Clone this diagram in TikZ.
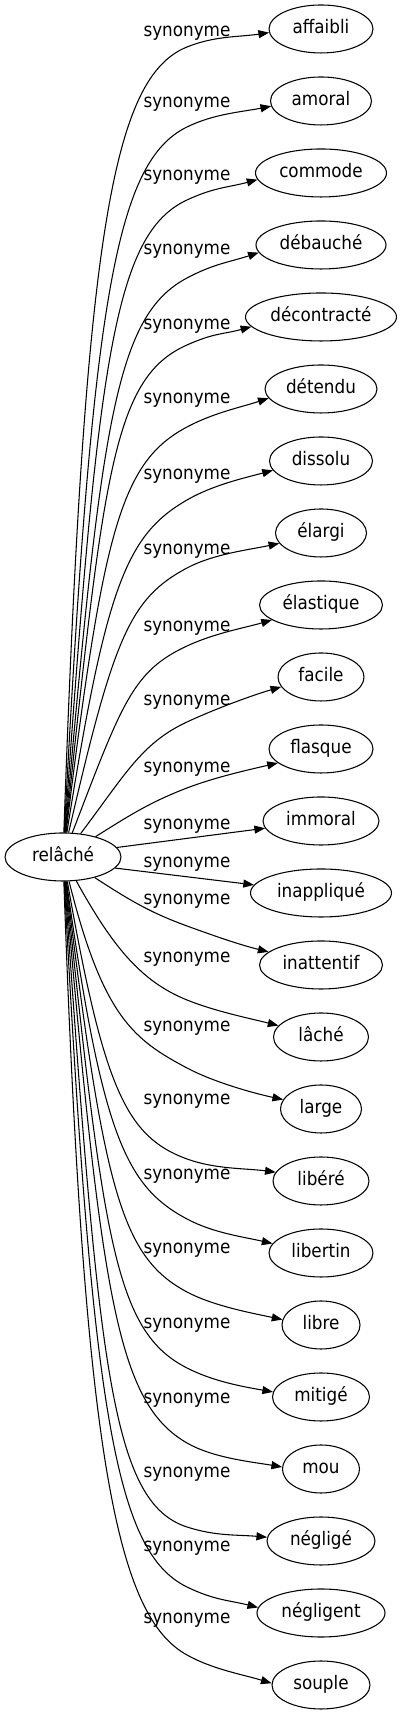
\documentclass[tikz,border=0pt]{standalone}
\usepackage{fontspec}
\setmainfont{DejaVu Sans Condensed}
\usetikzlibrary{arrows.meta,shapes.geometric}
\begin{document}
\begin{tikzpicture}[x=0.75pt,y=0.75pt,
  word/.style={ellipse, draw, line width=0.8pt, inner sep=0pt, minimum height=36pt,
    text height=0.85em, text depth=0.21em, font=\fontsize{14pt}{16pt}\selectfont},
  lab/.style={anchor=base, inner sep=0pt, font=\fontsize{14pt}{16pt}\selectfont},
  edge/.style={draw, line width=0.8pt, -{Triangle[length=8pt,width=6pt]}}]
\useasboundingbox (0,0) rectangle (403,1715);
\node[word, minimum width=87pt] (rel) at (63,858) {relâché};
\foreach \n/\w/\t [count=\i from 0] in {
  t0/78/affaibli, t1/75.75/amoral, t2/98.25/commode, t3/97.5/débauché,
  t4/113.25/décontracté, t5/84/détendu, t6/77.25/dissolu, t7/68.25/élargi,
  t8/92.25/élastique, t9/64.5/facile, t10/78/flasque, t11/87/immoral,
  t12/105.75/inappliqué, t13/92.25/inattentif, t14/71.25/lâché, t15/60.75/large,
  t16/72/libéré, t17/78/libertin, t18/58.5/libre, t19/72.75/mitigé,
  t20/57.75/mou, t21/81/négligé, t22/96/négligent, t23/73.5/souple} {
  \pgfmathsetmacro\yy{1686-72*\i}
  \node[word, minimum width=\w pt] (\n) at (321,\yy) {\t};
}
% curved connectors: start angle, y at x=187, tangent there, end anchor, end tangent
\foreach \i/\aS/\yM/\aM/\pE/\tE/\dA/\dB/\ly in {
  0/88/47/22/184/8.6/600/80/32,
  1/87/127/26/186/11/530/80/103,
  2/86/200/25/186/15/475/80/176,
  3/85/278/28/187/18/415/80/250,
  4/84/345/24/188/15/365/80/325,
  5/83/427/28/190/18/305/75/399,
  6/81/500/30/191/15/250/70/475,
  7/77/568/28/194/12/200/65/550,
  8/69/646/25/197/16/140/60/627,
  9/53/722/25/194/16/75/50/701,
  10/32/788/21/198/13/40/40/768,
  13/327/926/-20/166/-14/40/40/900,
  14/299/1000/-22/165/-14/75/50/958,
  15/284/1068/-28/166/-12/140/60/1027,
  16/280/1159/-20/169/-7.5/210/65/1100,
  17/278/1219/-28/169/-13/255/70/1175,
  18/277/1292/-28/172/-12/310/75/1249,
  19/276/1368/-27/174/-10/365/80/1324,
  20/275/1443/-30/177/-9.5/420/80/1399,
  21/274/1527/-18/176/-5/485/80/1473,
  22/273/1587/-26/175/-14/530/80/1547,
  23/272/1655/-29/178/-17/580/80/1619} {
  \pgfmathsetmacro\YM{1715-\yM}
  \pgfmathsetmacro\YL{1710-\ly}
  \pgfmathsetmacro\aMb{\aM+180}
  \pgfmathsetmacro\tEb{\tE+180}
  \draw[edge] (rel.\aS) .. controls +(\aS:\dA) and +(\aMb:\dB) .. (187,\YM)
     .. controls +(\aM:30) and +(\tEb:30) .. (t\i.\pE);
  \node[lab] at (187,\YL) {synonyme};
}
% straight connectors
\draw[edge] (rel.10) -- (t11);
\draw[edge] (rel.348) -- (t12);
\node[lab] (l11) at (187,885) {synonyme};
\node[lab] (l12) at (187,847) {synonyme};
\end{tikzpicture}
\end{document}
